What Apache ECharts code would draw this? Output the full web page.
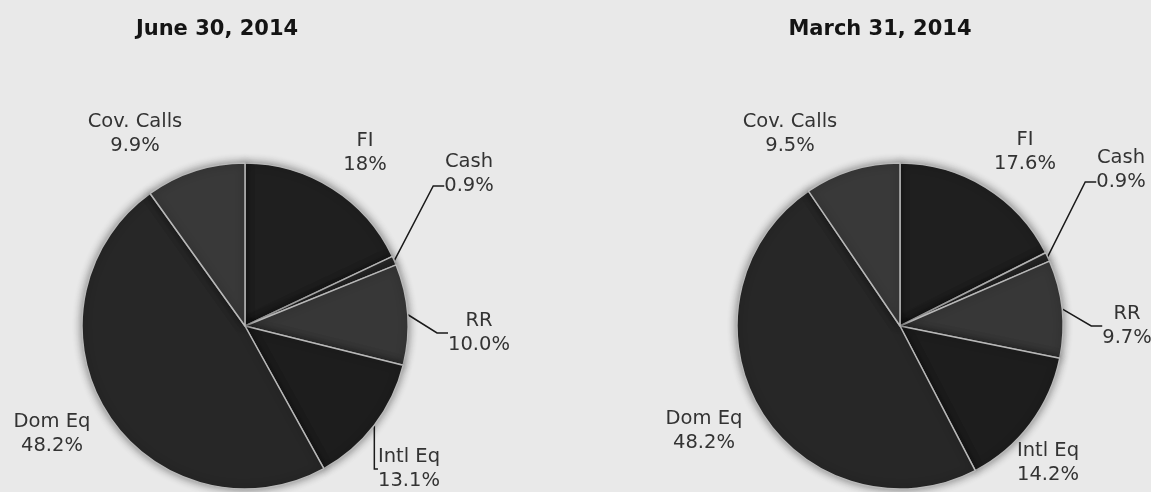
<!DOCTYPE html>
<html><head><meta charset="utf-8">
<script src="https://cdn.jsdelivr.net/npm/echarts@6/dist/echarts.min.js"></script>
<style>html,body{margin:0;padding:0;background:#e9e9e9}#c{width:1151px;height:492px}</style>
</head><body><div id="c"></div>
<script>
// ---- data ----
const categories = ['FI', 'Cash', 'RR', 'Intl Eq', 'Dom Eq', 'Cov. Calls'];
const juneValues = [18.0, 0.9, 10.0, 13.1, 48.2, 9.9];
const juneLabels = ['18%', '0.9%', '10.0%', '13.1%', '48.2%', '9.9%'];
const marchValues = [17.6, 0.9, 9.7, 14.2, 48.2, 9.5];
const marchLabels = ['17.6%', '0.9%', '9.7%', '14.2%', '48.2%', '9.5%'];
const titles = ['June 30, 2014', 'March 31, 2014'];

// ---- style / layout ----
const sliceColors = ['#1f1f1f', '#2a2a2a', '#373737', '#1d1d1d', '#272727', '#393939'];
const leaderShown = [[false, true, true, true, false, false], [false, true, true, false, false, false]];
// label text-block centres
const labelSpots = [
  [[365, 153], [469, 174], [479, 333], [409, 469], [52, 434], [135, 134]],
  [[1025, 152], [1121, 170], [1127, 326], [1048, 463], [704, 431], [790, 134]]
];
// extra padding on some labels so the leader line meets the label on its left side
const labelPads = [
  [null, [0, 70, 24, 0], null, [0, 110, 0, 0], null, null],
  [null, [0, 70, 24, 0], null, null, null, null]
];
const leaderTail = [
  [11, 11, 11, 4, 11, 11],
  [11, 11, 11, 11, 11, 11]
];
const pieCenters = [[245, 326], [900, 326]];
const LINE_H = 24;

function makeSeries(k, values, labels) {
  return {
    type: 'pie',
    center: pieCenters[k],
    radius: 163,
    startAngle: 90,
    clockwise: true,
    animation: false,
    silent: true,
    itemStyle: {
      borderColor: '#b8b8b8',
      borderWidth: 1.5,
      shadowBlur: 8,
      shadowColor: 'rgba(0,0,0,0.45)'
    },
    label: {
      show: true,
      position: 'outside',
      fontFamily: 'DejaVu Sans',
      fontSize: 19.5,
      lineHeight: LINE_H,
      color: '#333',
      align: 'center',
      overflow: 'none',
      formatter: p => p.name + '\n' + labels[p.dataIndex]
    },
    labelLine: {
      show: true,
      length: 20,
      length2: 11,
      lineStyle: { color: '#1a1a1a', width: 1.5 }
    },
    labelLayout: function (p) {
      const s = labelSpots[k][p.dataIndex];
      const pad = labelPads[k][p.dataIndex];
      const padR = pad ? pad[1] : 0;
      return { x: s[0] + padR / 2, y: s[1] - LINE_H, align: 'center', verticalAlign: 'top' };
    },
    data: categories.map((c, i) => {
      const item = {
        name: c,
        value: values[i],
        itemStyle: { color: sliceColors[i] },
        labelLine: { show: leaderShown[k][i], length2: leaderTail[k][i] }
      };
      if (labelPads[k][i]) item.label = { padding: labelPads[k][i] };
      return item;
    })
  };
}

const chart = echarts.init(document.getElementById('c'), null, { renderer: 'canvas' });
chart.setOption({
  backgroundColor: '#e9e9e9',
  title: [
    { text: titles[0], left: 212, top: 14, textAlign: 'center',
      textStyle: { fontFamily: 'DejaVu Sans', fontWeight: 'bold', fontSize: 21, color: '#141414' } },
    { text: titles[1], left: 875, top: 14, textAlign: 'center',
      textStyle: { fontFamily: 'DejaVu Sans', fontWeight: 'bold', fontSize: 21, color: '#141414' } }
  ],
  series: [
    makeSeries(0, juneValues, juneLabels),
    makeSeries(1, marchValues, marchLabels)
  ]
});
</script>
</body></html>
